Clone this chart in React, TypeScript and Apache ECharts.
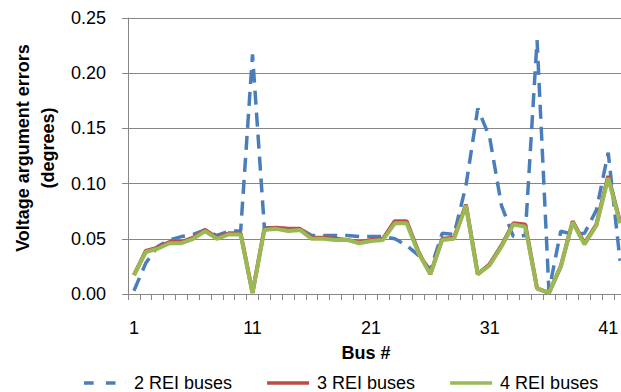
import React, { useEffect, useRef } from "react";
import * as echarts from "echarts";

const buses = [
  "1", "2", "3", "4", "5", "6", "7", "8", "9", "10",
  "11", "12", "13", "14", "15", "16", "17", "18", "19", "20",
  "21", "22", "23", "24", "25", "26", "27", "28", "29", "30",
  "31", "32", "33", "34", "35", "36", "37", "38", "39", "40",
  "41", "42",
];

const rei2 = [
  0.003, 0.028, 0.043, 0.049, 0.052, 0.054, 0.058, 0.053, 0.057, 0.057,
  0.217, 0.060, 0.060, 0.059, 0.059, 0.053, 0.053, 0.053, 0.053, 0.052,
  0.052, 0.052, 0.050, 0.044, 0.035, 0.022, 0.055, 0.054, 0.098, 0.168,
  0.142, 0.080, 0.052, 0.053, 0.230, 0.003, 0.057, 0.054, 0.055, 0.076,
  0.128, 0.030,
];

const rei3 = [
  0.017, 0.039, 0.042, 0.047, 0.047, 0.051, 0.058, 0.051, 0.055, 0.055,
  0.001, 0.059, 0.060, 0.059, 0.059, 0.051, 0.051, 0.050, 0.049, 0.047,
  0.049, 0.050, 0.066, 0.066, 0.038, 0.018, 0.050, 0.051, 0.081, 0.018,
  0.027, 0.044, 0.064, 0.063, 0.005, 0.001, 0.025, 0.066, 0.046, 0.063,
  0.107, 0.065,
];

const rei4 = [
  0.017, 0.038, 0.041, 0.046, 0.046, 0.050, 0.057, 0.050, 0.054, 0.054,
  0.001, 0.058, 0.059, 0.057, 0.058, 0.050, 0.050, 0.049, 0.049, 0.046,
  0.048, 0.049, 0.064, 0.064, 0.037, 0.018, 0.049, 0.050, 0.080, 0.018,
  0.026, 0.043, 0.063, 0.061, 0.005, 0.001, 0.025, 0.065, 0.045, 0.062,
  0.105, 0.064,
];

const seriesNames = ["2 REI buses", "3 REI buses", "4 REI buses"];
const seriesColors = ["#4A7EBB", "#BE4B48", "#98B954"];

const yMin = 0;
const yMax = 0.25;
const yStep = 0.05;

const solidIcon = "path://M0,0h48v4h-48z";
const dashedIcon = "path://M0,0h11v4h-11zM25,0h11v4h-11zM47.9,0h0.1v4h-0.1z";

export default function App() {
  const ref = useRef<HTMLDivElement>(null);

  useEffect(() => {
    if (!ref.current) return;
    const chart = echarts.init(ref.current, null, { renderer: "svg" });
    const font = "Liberation Sans";
    const axisGray = "#868686";
    chart.setOption({
      animation: false,
      textStyle: { fontFamily: font },
      grid: { left: 128, top: 18, right: 0, bottom: 98 },
      xAxis: {
        type: "category",
        data: buses,
        boundaryGap: true,
        name: "Bus #",
        nameLocation: "middle",
        nameGap: 50,
        nameTextStyle: {
          fontFamily: font,
          fontSize: 18,
          fontWeight: "bold",
          color: "#000",
          padding: [0, 22, 0, 0],
        },
        axisLine: { show: true, lineStyle: { color: axisGray, width: 1 } },
        axisTick: { show: true, length: 6, interval: 0, lineStyle: { color: axisGray } },
        axisLabel: { interval: 9, margin: 25, fontSize: 18, color: "#000", fontFamily: font },
        splitLine: { show: false },
      },
      yAxis: {
        type: "value",
        min: yMin,
        max: yMax,
        interval: yStep,
        name: "Voltage argument errors\n(degrees)",
        nameLocation: "middle",
        nameRotate: 90,
        nameGap: 68,
        nameTextStyle: {
          fontFamily: font,
          fontSize: 18,
          fontWeight: "bold",
          color: "#000",
          lineHeight: 25,
          padding: [0, 0, 0, 16],
        },
        axisLine: { show: true, lineStyle: { color: axisGray, width: 1 } },
        axisTick: { show: true, length: 6, lineStyle: { color: axisGray } },
        axisLabel: {
          margin: 22,
          fontSize: 18,
          color: "#000",
          fontFamily: font,
          formatter: (v: number) => v.toFixed(2),
        },
        splitLine: { show: true, lineStyle: { color: axisGray, width: 1 } },
      },
      legend: {
        left: 84,
        top: 374,
        padding: 0,
        itemWidth: 48,
        itemHeight: 3.5,
        itemGap: 35,
        textStyle: { fontSize: 18, color: "#000", fontFamily: font },
        data: [
          { name: seriesNames[0], icon: dashedIcon },
          { name: seriesNames[1], icon: solidIcon },
          { name: seriesNames[2], icon: solidIcon },
        ],
      },
      series: [
        {
          name: seriesNames[0],
          type: "line",
          data: rei2,
          symbol: "none",
          showSymbol: false,
          color: seriesColors[0],
          lineStyle: { color: seriesColors[0], width: 3.5, type: [14, 8], cap: "butt" },
          z: 2,
        },
        {
          name: seriesNames[1],
          type: "line",
          data: rei3,
          symbol: "none",
          showSymbol: false,
          color: seriesColors[1],
          lineStyle: { color: seriesColors[1], width: 4 },
          z: 3,
        },
        {
          name: seriesNames[2],
          type: "line",
          data: rei4,
          symbol: "none",
          showSymbol: false,
          color: seriesColors[2],
          lineStyle: { color: seriesColors[2], width: 4 },
          z: 4,
        },
      ],
    });
    return () => chart.dispose();
  }, []);

  return (
    <div
      style={{
        position: "absolute",
        left: 0,
        top: 0,
        width: 621,
        height: 392,
        overflow: "hidden",
      }}
    >
      <div ref={ref} style={{ width: 626, height: 392 }} />
    </div>
  );
}
